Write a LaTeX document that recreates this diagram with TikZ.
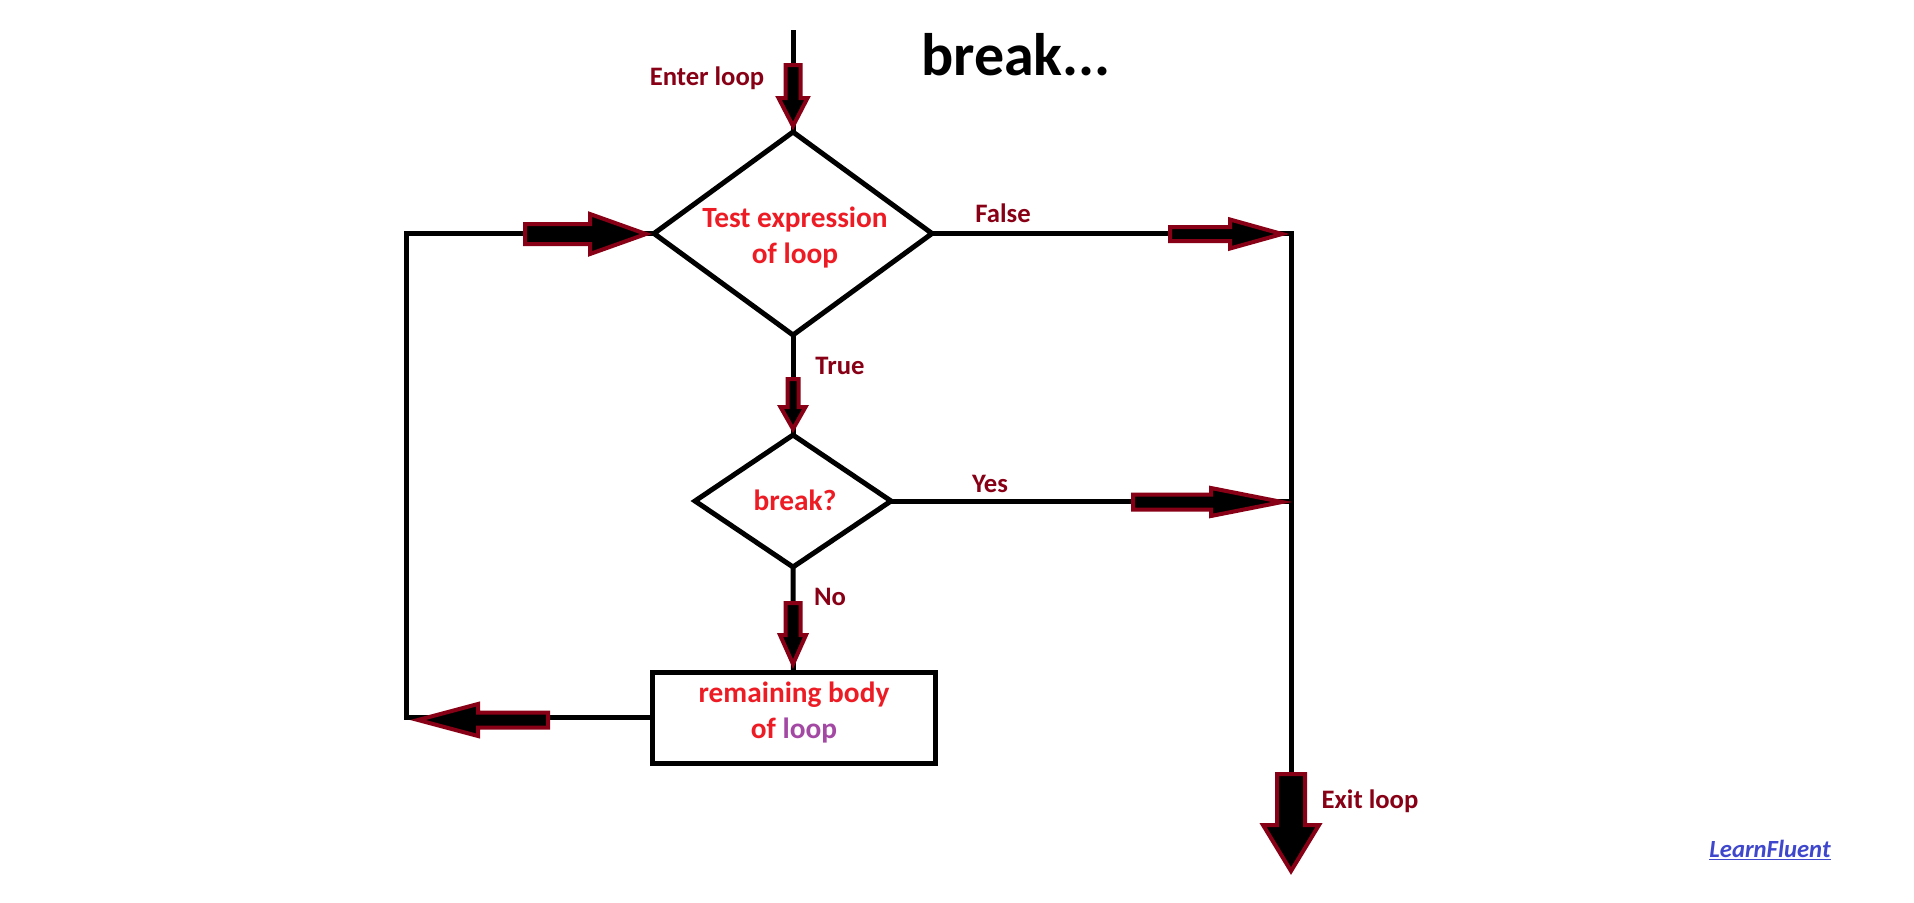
\documentclass[tikz,border=0pt]{standalone}
\usepackage{fontspec}
\setmainfont{Carlito}
\usetikzlibrary{shapes.geometric}

\definecolor{arrowred}{RGB}{136,0,21}
\definecolor{textred}{RGB}{237,28,36}
\definecolor{loopviolet}{RGB}{163,73,164}
\definecolor{creditblue}{RGB}{63,72,204}

\tikzset{every picture/.style={line width=3.75pt}}
\tikzset{
	decision/.style={draw, shape=diamond, inner sep=0pt, outer sep=0pt},
	process/.style={draw, rectangle, inner sep=0pt, outer sep=0pt},
	flowtext/.style={font=\fontsize{22}{26.5}\selectfont\bfseries, text=textred, align=center},
	edgelabel/.style={font=\fontsize{20}{24}\selectfont\bfseries, text=arrowred, anchor=base},
	heading/.style={font=\fontsize{45}{50}\selectfont\bfseries, anchor=base},
	credit/.style={font=\fontsize{18.5}{21}\selectfont\bfseries\itshape, text=creditblue, anchor=base},
	fatarrow/.style={draw=arrowred, fill=black, line width=3pt, line join=miter}}

\begin{document}
\begin{tikzpicture}[x=0.75pt,y=0.75pt,yscale=-1,xscale=1]
	\useasboundingbox (0,0) rectangle (1914,903); %same size as the screenshot

	%Shape: Diamond
	\node [decision, minimum width=208.5pt, minimum height=152.25pt] (test) at (793,233.5) {};
	%Shape: Diamond
	\node [decision, minimum width=147pt, minimum height=99pt] (brk) at (793,501) {};
	%Shape: Rectangle
	\node [process, minimum width=212.25pt, minimum height=68.25pt] (body) at (793.5,717.5) {};

	\coordinate (start) at (793,30);
	\coordinate (rtop) at (1291,233.5);
	\coordinate (exit) at (1291,825);
	\coordinate (ltop) at (406,233.5);

	%Connectors
	\draw (start) -- (test.north);
	\draw (test.south) -- (brk.north);
	\draw (brk.south) -- (body.north);
	\draw (test.east) -- (rtop) -- (exit);
	\draw (brk.east) -- (brk.east -| rtop);
	\draw (body.west) -| (ltop) -- (test.west);

	%Down Arrow (enter)
	\draw [fatarrow] (785.5,65) -- (800.5,65) -- (800.5,98) -- (807.5,98) -- (793,126) -- (778.5,98) -- (785.5,98) -- cycle ;
	%Right Arrow (back into the test)
	\draw [fatarrow] (525,224) -- (590,224) -- (590,214) -- (646,234) -- (590,254) -- (590,244) -- (525,244) -- cycle ;
	%Right Arrow (false)
	\draw [fatarrow] (1170,227) -- (1230,227) -- (1230,219.5) -- (1282,234) -- (1230,248.5) -- (1230,241) -- (1170,241) -- cycle ;
	%Down Arrow (true)
	\draw [fatarrow] (787.5,379) -- (798.5,379) -- (798.5,407) -- (805.5,407) -- (793,429) -- (780.5,407) -- (787.5,407) -- cycle ;
	%Right Arrow (yes)
	\draw [fatarrow] (1133,494.5) -- (1211,494.5) -- (1211,488) -- (1282,502) -- (1211,516) -- (1211,509.5) -- (1133,509.5) -- cycle ;
	%Down Arrow (no)
	\draw [fatarrow] (785.5,603) -- (800.5,603) -- (800.5,635) -- (806,635) -- (793,664) -- (780,635) -- (785.5,635) -- cycle ;
	%Left Arrow (back to the start)
	\draw [fatarrow] (548,712.5) -- (478,712.5) -- (478,704) -- (418,720) -- (478,736) -- (478,727.5) -- (548,727.5) -- cycle ;
	%Down Arrow (exit)
	\draw [fatarrow] (1277,774) -- (1305,774) -- (1305,825) -- (1319,825) -- (1291,871) -- (1263,825) -- (1277,825) -- cycle ;

	% Text Node
	\node [heading] (title) at (1016,75) {break...};
	% Text Node
	\node [flowtext] (testtxt) at (795,237.5) {Test expression\\of loop};
	% Text Node
	\node [flowtext, anchor=base] (brktxt) at (795,510) {break?};
	% Text Node
	\node [flowtext] (bodytxt) at (794,712.5) {remaining body\\of \textcolor{loopviolet}{loop}};
	% Text Node
	\node [edgelabel] (enterlbl) at (707,85) {Enter loop};
	% Text Node
	\node [edgelabel] (falselbl) at (1003,222) {False};
	% Text Node
	\node [edgelabel] (truelbl) at (840,374) {True};
	% Text Node
	\node [edgelabel] (yeslbl) at (990,492) {Yes};
	% Text Node
	\node [edgelabel] (nolbl) at (830,605) {No};
	% Text Node
	\node [edgelabel] (exitlbl) at (1370,808) {Exit loop};
	% Text Node
	\node [credit] (creditlbl) at (1770,857) {\underline{LearnFluent}};

\end{tikzpicture}
\end{document}
